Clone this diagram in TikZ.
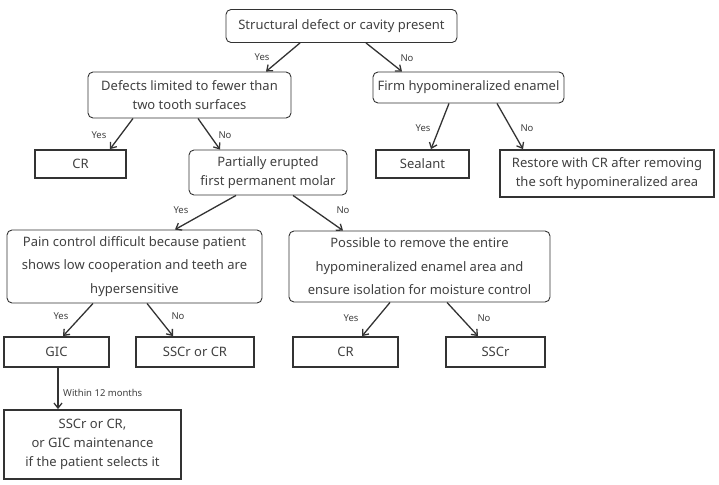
\documentclass[tikz,border=0pt]{standalone}
\usepackage{fontspec}
\setmainfont{Noto Sans}
\usetikzlibrary{arrows.meta}
\definecolor{ln}{HTML}{333333}
\definecolor{tx}{HTML}{404040}
\begin{document}
\begin{tikzpicture}[x=1pt,y=-1pt,
  every node/.style={text=tx,font=\fontsize{13}{18.5}\selectfont,inner sep=0pt,align=center},
  qbox/.style={draw=ln,line width=0.9pt,rounded corners=5pt},
  abox/.style={draw=ln,line width=1.8pt},
  arr/.style={draw=ln,line width=1.3pt,-{Straight Barb[length=5pt,width=8pt]}},
  lbl/.style={font=\fontsize{9.5}{11}\selectfont}]
\useasboundingbox (0,0) rectangle (719,484);
\node[qbox,minimum width=231pt,minimum height=33pt] (root) at (341.5,26) {Structural defect or cavity present};
\node[qbox,minimum width=203pt,minimum height=46pt] (defects) at (189.5,95) {Defects limited to fewer than\\two tooth surfaces};
\node[abox,minimum width=91pt,minimum height=28pt] (cr1) at (80.5,164) {CR};
\node[qbox,minimum width=158pt,minimum height=45pt] (partial) at (268,172.5) {Partially erupted\\first permanent molar};
\node[qbox,minimum width=191pt,minimum height=31pt] (firm) at (468.5,87.5) {Firm hypomineralized enamel};
\node[abox,minimum width=93pt,minimum height=28pt] (sealant) at (422.5,164) {Sealant};
\node[abox,minimum width=214pt,minimum height=47pt] (restore) at (607,173.5) {Restore with CR after removing\\the soft hypomineralized area};
\node[qbox,minimum width=255pt,minimum height=73pt,font=\fontsize{13}{23.5}\selectfont] (pain) at (134.5,266.5) {Pain control difficult because patient\\shows low cooperation and teeth are\\hypersensitive};
\node[qbox,minimum width=261pt,minimum height=71pt,font=\fontsize{13}{23.5}\selectfont] (possible) at (419.5,266.5) {Possible to remove the entire\\hypomineralized enamel area and\\ensure isolation for moisture control};
\node[abox,minimum width=105pt,minimum height=30pt] (gic) at (56.5,352) {GIC};
\node[abox,minimum width=118pt,minimum height=30pt] (sscrcr) at (195,352) {SSCr or CR};
\node[abox,minimum width=105pt,minimum height=30pt] (cr2) at (345.5,352) {CR};
\node[abox,minimum width=99pt,minimum height=30pt] (sscr) at (495.5,352) {SSCr};
\node[abox,minimum width=177pt,minimum height=69pt,font=\fontsize{13}{19}\selectfont] (final) at (92.5,444.5) {SSCr or CR,\\or GIC maintenance\\if the patient selects it};
% connectors
\draw[arr] ([xshift=-41.5pt]root.south) -- ([xshift=76.5pt]defects.north);
\draw[arr] ([xshift=24.5pt]root.south) -- ([xshift=-66.5pt]firm.north);
\draw[arr] ([xshift=-56.5pt]defects.south) -- ([xshift=29.5pt]cr1.north);
\draw[arr] ([xshift=8.5pt]defects.south) -- ([xshift=-48pt]partial.north);
\draw[arr] ([xshift=-19.5pt]firm.south) -- ([xshift=8.5pt]sealant.north);
\draw[arr] ([xshift=28.5pt]firm.south) -- ([xshift=-84pt]restore.north);
\draw[arr] ([xshift=-32pt]partial.south) -- ([xshift=40.5pt]pain.north);
\draw[arr] ([xshift=25pt]partial.south) -- ([xshift=-76.5pt]possible.north);
\draw[arr] ([xshift=-41.5pt]pain.south) -- ([xshift=6.5pt]gic.north);
\draw[arr] ([xshift=12.5pt]pain.south) -- ([xshift=-22pt]sscrcr.north);
\draw[arr] ([xshift=-29.5pt]possible.south) -- ([xshift=16.5pt]cr2.north);
\draw[arr] ([xshift=27.5pt]possible.south) -- ([xshift=-17.5pt]sscr.north);
\draw[arr] ([xshift=1.5pt]gic.south) -- ([xshift=-34.5pt]final.north);
% labels
\node[lbl] (l1) at (262,57) {Yes};
\node[lbl] (l2) at (407,58) {No};
\node[lbl] (l3) at (99,135) {Yes};
\node[lbl] (l4) at (225,135) {No};
\node[lbl] (l5) at (423,128) {Yes};
\node[lbl] (l6) at (527,128) {No};
\node[lbl] (l7) at (181,210) {Yes};
\node[lbl] (l8) at (343,210) {No};
\node[lbl] (l9) at (61,316) {Yes};
\node[lbl] (l10) at (178,316) {No};
\node[lbl] (l11) at (351,318) {Yes};
\node[lbl] (l12) at (484,318) {No};
\node[lbl,anchor=west] (l13) at (63,393) {Within 12 months};
\end{tikzpicture}
\end{document}
